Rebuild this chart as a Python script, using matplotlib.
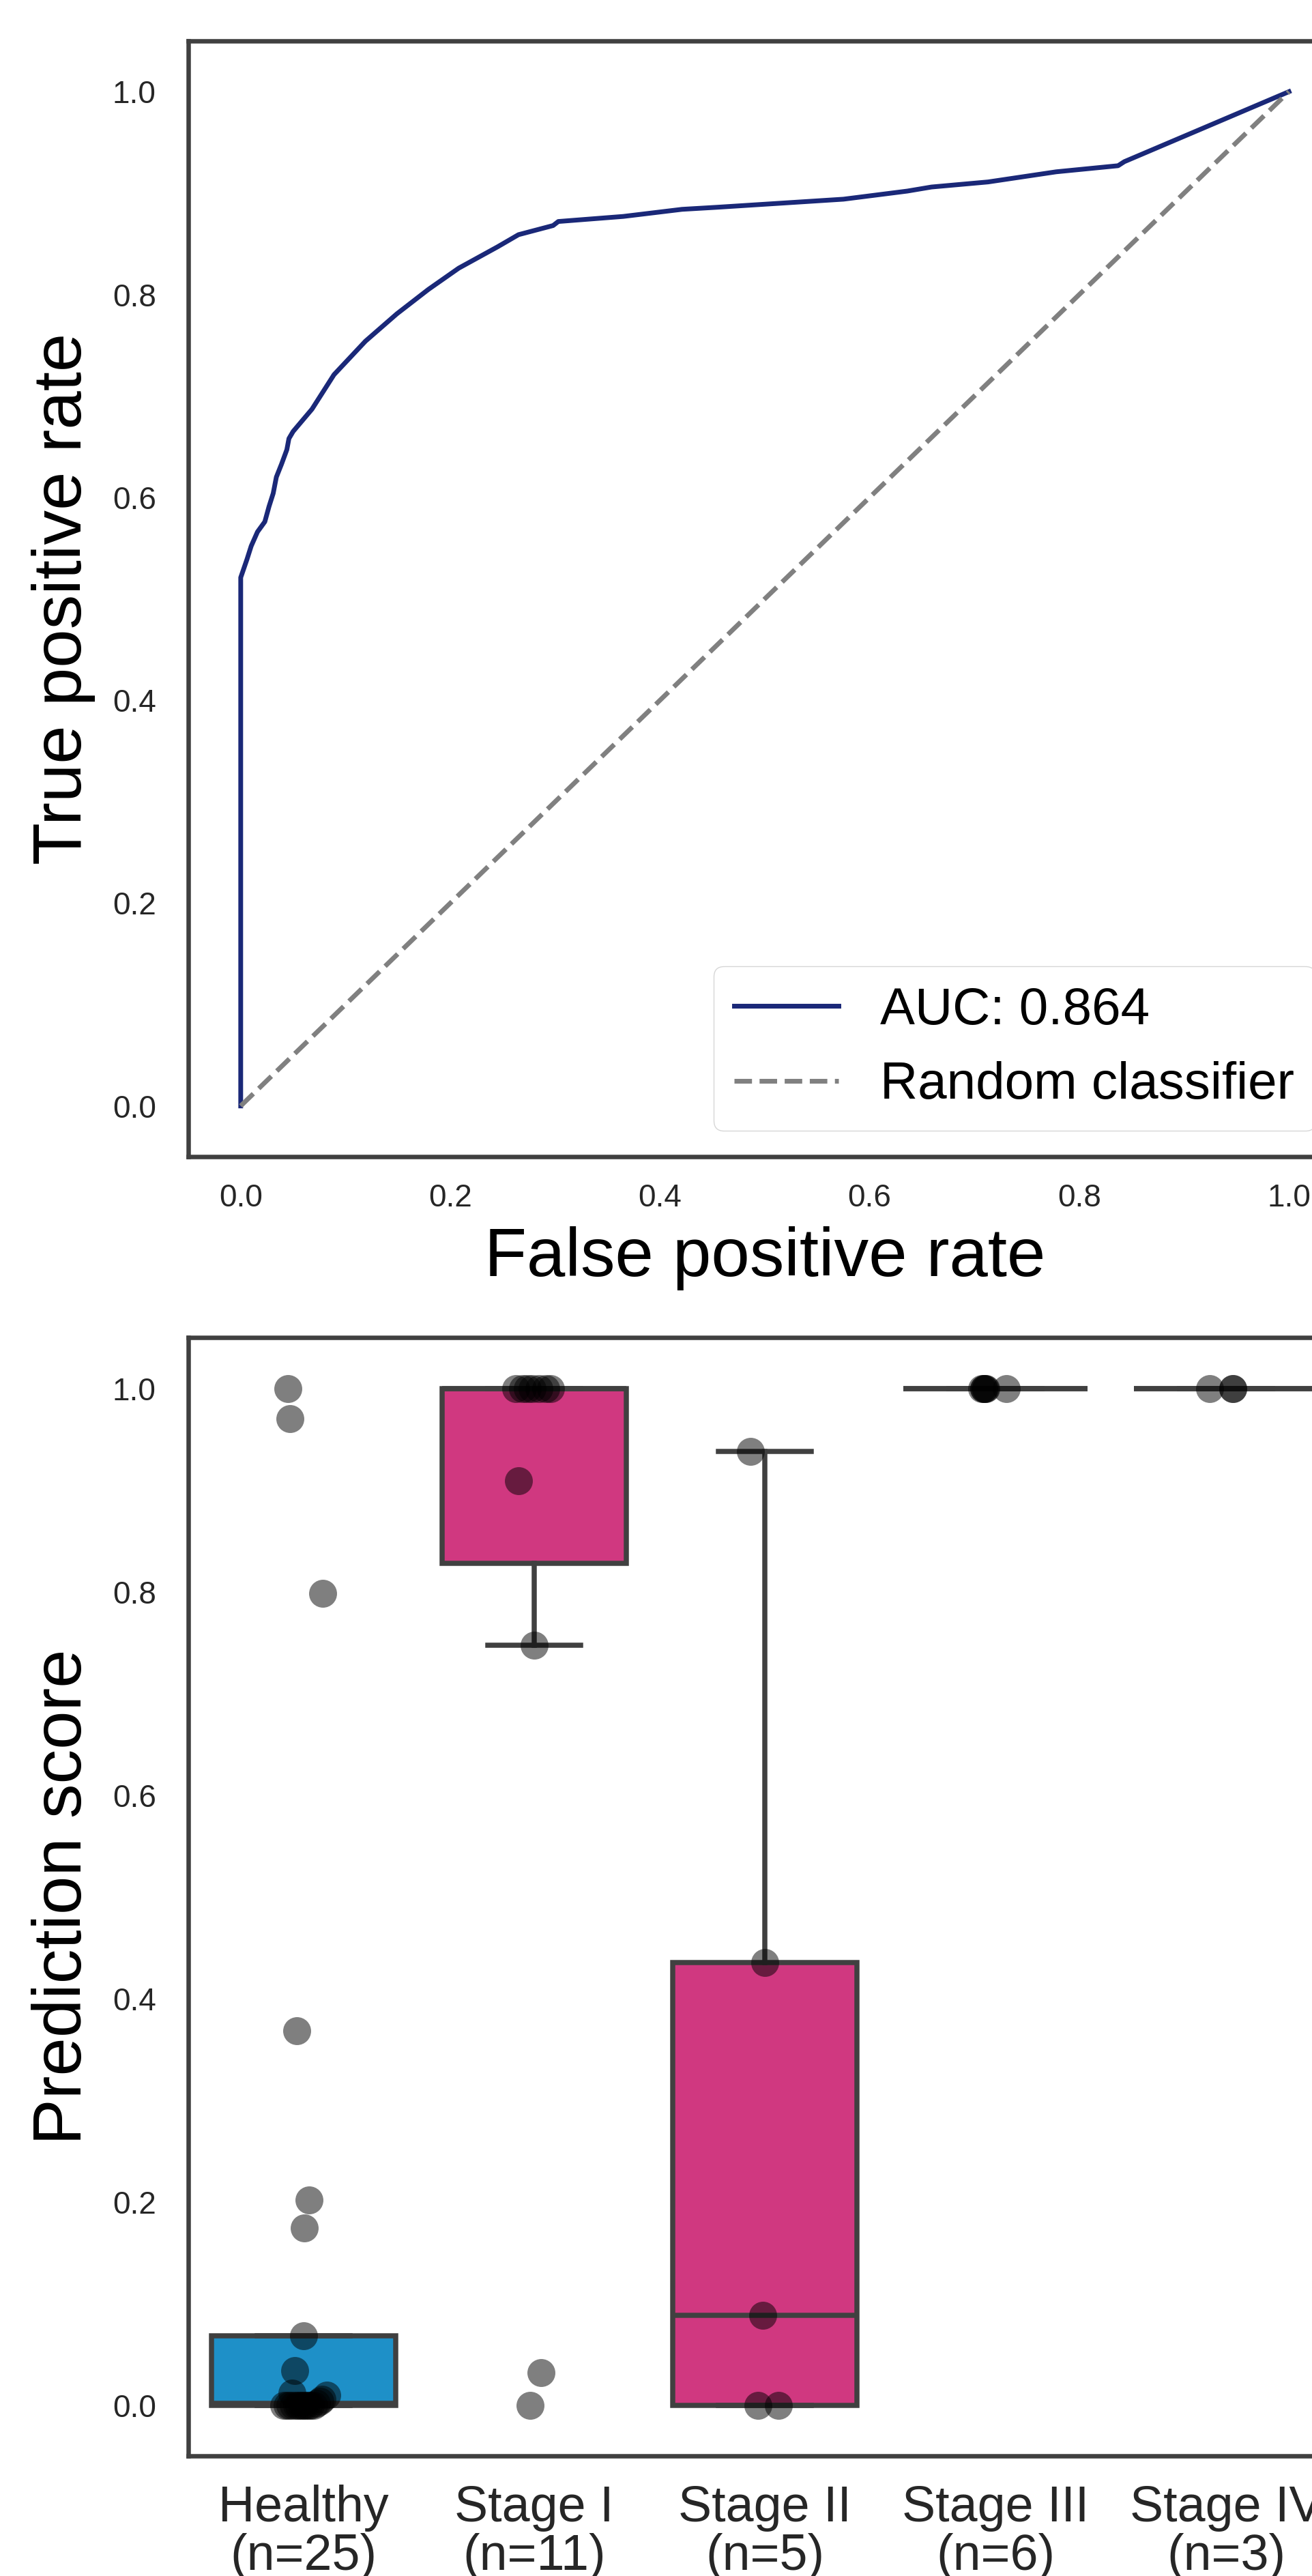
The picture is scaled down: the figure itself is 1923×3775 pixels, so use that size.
import matplotlib
matplotlib.use("Agg")
import matplotlib.pyplot as plt
import numpy as np

plt.rcParams['font.family'] = ['Liberation Sans', 'DejaVu Sans']

# ROC curve
fpr = [0.0, 0.0, 0.006, 0.010, 0.016, 0.023, 0.027, 0.031, 0.034, 0.039, 0.044, 0.046,
       0.050, 0.059, 0.068, 0.089, 0.119, 0.149, 0.179, 0.208, 0.245, 0.265, 0.298,
       0.303, 0.365, 0.421, 0.454, 0.575, 0.636, 0.659, 0.713, 0.778, 0.837, 0.843, 1.0]
tpr = [0.0, 0.521, 0.539, 0.552, 0.566, 0.576, 0.591, 0.604, 0.620, 0.633, 0.647, 0.658,
       0.665, 0.676, 0.687, 0.721, 0.754, 0.781, 0.805, 0.826, 0.847, 0.859, 0.868,
       0.872, 0.877, 0.884, 0.886, 0.894, 0.902, 0.906, 0.911, 0.921, 0.927, 0.931, 1.0]
auc_label = "AUC: 0.864"

# prediction scores per group
groups = ["Healthy", "Stage I", "Stage II", "Stage III", "Stage IV"]
healthy = [1.0, 0.97, 0.798, 0.368, 0.202, 0.174, 0.068, 0.034,
           0.0, 0.0, 0.0, 0.0, 0.0, 0.0, 0.0, 0.0, 0.0, 0.0, 0.0, 0.0,
           0.002, 0.004, 0.006, 0.01, 0.012]
stage1 = [1.0, 1.0, 1.0, 1.0, 1.0, 1.0, 1.0, 0.909, 0.747, 0.032, 0.0]
stage2 = [0.938, 0.435, 0.088, 0.0, 0.0]
stage3 = [1.0, 1.0, 1.0, 1.0, 1.0, 1.0]
stage4 = [1.0, 1.0, 1.0]
scores = [healthy, stage1, stage2, stage3, stage4]

# horizontal jitter of the dots (category units)
healthy_jit = [-0.068, -0.059, 0.083, -0.030, 0.024, 0.003, 0.0, -0.038,
               -0.085, -0.07, -0.06, -0.045, -0.03, -0.02, -0.01, 0.0, 0.01,
               0.02, 0.03, 0.045, 0.055, 0.07, 0.08, 0.10, -0.05]
stage1_jit = [-0.08, -0.05, -0.03, -0.01, 0.02, 0.05, 0.07, -0.068, 0.0, 0.03, -0.018]
stage2_jit = [-0.062, 0.0, -0.01, -0.03, 0.06]
stage3_jit = [-0.06, -0.05, -0.05, -0.045, -0.04, 0.048]
stage4_jit = [-0.071, 0.03, 0.03]
jitters = [healthy_jit, stage1_jit, stage2_jit, stage3_jit, stage4_jit]

box_colors = ["#1E90C8", "#D03880", "#D03880", "#D03880", "#D03880"]

edge = "#404040"
fig = plt.figure(figsize=(19.24, 37.75), dpi=100)

# ---------------- ROC ----------------
ax1 = fig.add_axes([0.14345, 0.55099, 0.87838, 0.43311])
ax1.plot(fpr, tpr, color="#1a2878", linewidth=5, label=auc_label)
ax1.plot([0, 1], [0, 1], color="gray", linestyle="--", linewidth=5, label="Random classifier")
ax1.set_xlim(-0.05, 1.05)
ax1.set_ylim(-0.05, 1.05)
ax1.set_xticks(np.arange(0, 1.01, 0.2))
ax1.set_yticks(np.arange(0, 1.01, 0.2))
ax1.set_xlabel("False positive rate", fontsize=73, labelpad=14)
ax1.set_ylabel("True positive rate", fontsize=73, labelpad=18)
ax1.tick_params(axis="x", length=0, pad=28, labelsize=33, labelcolor="#262626")
ax1.tick_params(axis="y", length=0, pad=34, labelsize=33, labelcolor="#262626")
ax1.legend(loc="lower right", fontsize=55)

# ---------------- box + strip ----------------
ax2 = fig.add_axes([0.14345, 0.04662, 0.87838, 0.43417])
pos = np.arange(len(groups))
bp = ax2.boxplot(scores, positions=pos, widths=0.8, patch_artist=True, showfliers=False,
                 whis=1.5, capwidths=0.4,
                 boxprops=dict(edgecolor=edge, linewidth=5.4),
                 whiskerprops=dict(color=edge, linewidth=5.4),
                 capprops=dict(color=edge, linewidth=5.4),
                 medianprops=dict(color=edge, linewidth=5.4))
for patch, c in zip(bp["boxes"], box_colors):
    patch.set_facecolor(c)
for i, (vals, jit) in enumerate(zip(scores, jitters)):
    ax2.scatter(i + np.array(jit), vals, s=870, color="black", alpha=0.5,
                linewidths=0, zorder=4)
ax2.set_xlim(-0.5, 4.5)
ax2.set_ylim(-0.05, 1.05)
ax2.set_xticks(pos)
ax2.set_xticklabels([f"{g}\n(n={len(v)})" for g, v in zip(groups, scores)],
                    fontsize=53, linespacing=1.05)
ax2.set_yticks(np.arange(0, 1.01, 0.2))
ax2.set_ylabel("Prediction score", fontsize=73, labelpad=18)
ax2.tick_params(axis="x", length=0, pad=30, labelcolor="#262626")
ax2.tick_params(axis="y", length=0, pad=34, labelsize=33, labelcolor="#262626")

for ax in (ax1, ax2):
    for sp in ax.spines.values():
        sp.set_color(edge)
        sp.set_linewidth(4.7)

fig.savefig("out.png", dpi=100)
